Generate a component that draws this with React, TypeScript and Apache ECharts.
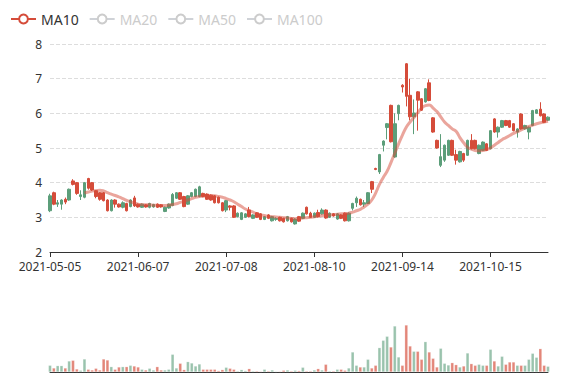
import React, { useEffect, useRef } from "react";
import * as echarts from "echarts";

const dates = [
  "2021-05-05","2021-05-06","2021-05-07","2021-05-10","2021-05-11","2021-05-12","2021-05-13","2021-05-14","2021-05-17","2021-05-18",
  "2021-05-19","2021-05-20","2021-05-21","2021-05-24","2021-05-25","2021-05-26","2021-05-27","2021-05-28","2021-05-31","2021-06-01",
  "2021-06-02","2021-06-03","2021-06-04","2021-06-07","2021-06-08","2021-06-09","2021-06-10","2021-06-11","2021-06-14","2021-06-15",
  "2021-06-16","2021-06-17","2021-06-18","2021-06-21","2021-06-22","2021-06-23","2021-06-24","2021-06-25","2021-06-28","2021-06-29",
  "2021-06-30","2021-07-01","2021-07-02","2021-07-05","2021-07-06","2021-07-07","2021-07-08","2021-07-09","2021-07-12","2021-07-13",
  "2021-07-14","2021-07-15","2021-07-16","2021-07-19","2021-07-20","2021-07-21","2021-07-22","2021-07-23","2021-07-26","2021-07-27",
  "2021-07-28","2021-07-29","2021-07-30","2021-08-02","2021-08-03","2021-08-04","2021-08-05","2021-08-06","2021-08-09","2021-08-10",
  "2021-08-11","2021-08-12","2021-08-13","2021-08-16","2021-08-17","2021-08-18","2021-08-19","2021-08-20","2021-08-23","2021-08-24",
  "2021-08-25","2021-08-26","2021-08-27","2021-08-30","2021-08-31","2021-09-01","2021-09-02","2021-09-03","2021-09-07","2021-09-08",
  "2021-09-09","2021-09-13","2021-09-14","2021-09-15","2021-09-16","2021-09-17","2021-09-20","2021-09-21","2021-09-22","2021-09-23",
  "2021-09-24","2021-09-27","2021-09-28","2021-09-29","2021-09-30","2021-10-01","2021-10-04","2021-10-05","2021-10-06","2021-10-07",
  "2021-10-08","2021-10-11","2021-10-12","2021-10-13","2021-10-14","2021-10-15","2021-10-18","2021-10-19","2021-10-20","2021-10-21",
  "2021-10-22","2021-10-25","2021-10-26","2021-10-27","2021-10-28","2021-10-29","2021-11-01","2021-11-02","2021-11-03","2021-11-04",
  "2021-11-05"
];

const opens = [
  3.62,3.38,3.42,3.50,3.44,3.81,3.95,3.69,3.65,4.00,
  3.84,3.79,3.60,3.52,3.48,3.19,3.50,3.38,3.30,3.42,
  3.19,3.50,3.33,3.30,3.38,3.30,3.40,3.37,3.29,3.30,
  3.29,3.38,3.66,3.71,3.52,3.31,3.62,3.71,3.81,3.88,
  3.60,3.52,3.50,3.42,3.42,3.19,3.48,3.29,3.00,3.12,
  3.13,3.10,3.02,3.07,3.00,2.94,3.02,2.97,3.02,2.97,
  2.90,2.87,3.02,2.87,2.95,2.89,3.12,3.10,3.00,3.12,
  3.02,3.21,2.98,3.12,3.04,3.10,2.97,2.90,3.12,3.40,
  3.55,3.36,3.42,3.71,3.81,4.38,4.81,5.20,5.70,5.18,
  5.70,6.23,6.76,6.49,5.90,6.01,6.38,6.09,6.71,6.37,
  5.46,5.00,4.75,5.08,5.22,4.79,4.65,4.90,4.65,5.22,
  4.98,4.98,5.08,5.17,4.93,5.50,5.46,5.60,5.79,5.65,
  5.60,5.50,5.55,5.55,5.65,5.60,6.08,6.10,5.93,5.74,
  5.89
];

const closes = [
  3.19,3.71,3.38,3.38,3.52,3.50,4.05,4.00,3.60,3.58,
  4.12,4.00,3.77,3.71,3.71,3.50,3.19,3.50,3.38,3.29,
  3.40,3.31,3.56,3.38,3.29,3.36,3.29,3.30,3.38,3.36,
  3.17,3.27,3.34,3.55,3.71,3.60,3.38,3.60,3.60,3.60,
  3.69,3.67,3.64,3.62,3.58,3.42,3.21,3.33,3.33,3.02,
  2.94,3.00,3.21,2.97,3.13,3.10,2.94,3.07,2.90,2.94,
  3.00,2.97,2.90,2.97,2.81,3.02,2.97,3.29,3.12,3.00,
  3.14,3.10,3.21,3.00,3.10,2.95,3.07,3.12,2.90,3.26,
  3.42,3.52,3.38,3.40,4.03,4.41,4.31,5.08,5.59,6.23,
  4.74,5.99,6.81,7.43,6.52,5.90,6.62,6.42,6.33,6.88,
  5.87,5.22,4.50,4.65,4.79,5.22,4.81,4.60,4.84,4.79,
  5.22,5.22,4.84,4.93,5.12,4.98,5.84,5.46,5.60,5.79,
  5.79,5.70,5.46,5.98,5.55,5.46,5.65,6.00,6.12,5.98,
  5.80
];

const lows = [
  3.15,3.35,3.30,3.22,3.38,3.48,3.92,3.65,3.50,3.55,
  3.80,3.76,3.55,3.48,3.46,3.17,3.17,3.28,3.28,3.26,
  3.17,3.29,3.30,3.28,3.27,3.28,3.26,3.28,3.27,3.28,
  3.15,3.25,3.32,3.53,3.50,3.29,3.36,3.58,3.58,3.58,
  3.58,3.50,3.48,3.40,3.40,3.17,3.15,3.20,2.98,3.00,
  2.92,2.98,3.00,2.95,2.98,2.92,2.92,2.95,2.88,2.90,
  2.88,2.85,2.88,2.85,2.79,2.87,2.95,3.08,2.98,2.98,
  3.00,3.08,2.96,2.98,3.02,2.93,2.95,2.88,2.88,3.20,
  3.30,3.34,3.30,3.38,3.70,4.36,4.25,4.90,5.25,5.16,
  4.72,5.80,6.60,6.20,5.80,5.40,5.50,6.07,6.31,6.35,
  5.44,4.98,4.45,4.60,4.77,4.77,4.52,4.58,4.60,4.77,
  4.96,4.96,4.82,4.91,4.91,4.96,5.44,5.30,5.58,5.63,
  5.58,5.48,5.30,5.53,5.53,5.25,5.63,5.98,5.91,5.72,
  5.78
];

const highs = [
  3.68,3.74,3.50,3.52,3.57,3.83,4.10,4.02,3.78,4.02,
  4.14,4.02,3.79,3.73,3.73,3.52,3.52,3.52,3.40,3.46,
  3.42,3.52,3.62,3.40,3.40,3.38,3.42,3.39,3.40,3.38,
  3.31,3.40,3.70,3.73,3.73,3.62,3.64,3.73,3.83,3.91,
  3.71,3.69,3.66,3.64,3.60,3.44,3.50,3.35,3.35,3.14,
  3.15,3.12,3.30,3.09,3.15,3.12,3.04,3.09,3.04,3.00,
  3.02,2.99,3.04,2.99,2.97,3.04,3.14,3.31,3.16,3.14,
  3.22,3.26,3.23,3.14,3.12,3.12,3.09,3.14,3.14,3.42,
  3.60,3.54,3.50,3.73,4.05,4.43,4.83,5.22,5.72,6.25,
  6.00,6.25,6.84,7.45,7.00,6.40,6.64,6.44,6.73,6.98,
  5.89,5.24,5.40,5.10,5.24,5.24,4.95,4.92,4.86,5.24,
  5.40,5.24,5.10,5.19,5.14,5.52,5.86,5.62,5.81,5.81,
  5.81,5.72,5.57,6.00,5.67,5.62,6.10,6.12,6.32,6.00,
  5.91
];

const ma10 = [
  "-","-","-","-","-","-","-","-","-",3.70,
  3.73,3.76,3.77,3.78,3.76,3.71,3.67,3.63,3.59,3.54,
  3.49,3.45,3.41,3.38,3.37,3.36,3.36,3.35,3.35,3.34,
  3.34,3.35,3.37,3.39,3.43,3.46,3.50,3.54,3.58,3.60,
  3.61,3.62,3.63,3.62,3.60,3.58,3.54,3.50,3.45,3.38,
  3.31,3.24,3.19,3.15,3.10,3.07,3.05,3.03,3.02,3.01,
  3.00,2.99,2.98,2.97,2.96,2.97,2.98,2.99,3.00,3.02,
  3.03,3.05,3.06,3.07,3.08,3.09,3.10,3.11,3.12,3.15,
  3.19,3.23,3.30,3.38,3.50,3.70,3.95,4.15,4.33,4.58,
  4.85,5.12,5.37,5.60,5.75,5.88,6.02,6.15,6.22,6.24,
  6.15,6.05,5.90,5.75,5.65,5.55,5.48,5.30,5.15,5.02,
  4.97,4.93,4.92,4.93,4.96,5.00,5.08,5.16,5.24,5.30,
  5.36,5.42,5.47,5.52,5.58,5.62,5.66,5.70,5.73,5.75,
  5.77
];

const volumes = [
  20,12,19,19,12,33,35,9,5,39,
  8,6,11,6,39,36,16,8,15,16,
  16,20,18,15,8,6,11,6,16,6,
  6,8,53,12,26,7,31,27,18,24,
  8,8,8,8,4,7,14,11,8,3,
  7,4,10,3,3,2,8,3,6,2,
  2,5,6,3,5,4,14,3,3,6,
  10,6,23,3,3,8,8,5,12,60,
  20,15,15,38,12,20,73,95,107,75,
  138,45,20,141,78,62,62,38,91,60,
  41,15,71,26,21,28,22,15,18,57,
  25,20,23,20,20,68,33,18,47,23,
  30,30,20,20,20,38,56,44,70,20,
  17
];

const legendNames = ["MA10", "MA20", "MA50", "MA100"];

const UP = "#d54c3a";
const DOWN = "#5c9e7a";
const FONT = "'Noto Sans', sans-serif";

export default function App() {
  const ref = useRef<HTMLDivElement>(null);
  useEffect(() => {
    if (!ref.current) return;
    const chart = echarts.init(ref.current, undefined, { renderer: "svg" });
    const candles = dates.map((_, i) => [opens[i], closes[i], lows[i], highs[i]]);
    const vols = volumes.map((v, i) => ({
      value: v,
      itemStyle: {
        color: closes[i] >= opens[i] ? "rgba(213,76,58,0.68)" : "rgba(92,158,122,0.62)",
        borderColor: "rgba(255,255,255,0.45)",
        borderWidth: 0.5,
      },
    }));
    chart.setOption({
      animation: false,
      textStyle: { fontFamily: FONT },
      legend: {
        left: 5,
        top: 7,
        itemGap: 10,
        itemWidth: 25,
        itemHeight: 11,
        data: legendNames.map((n) => ({ name: n, lineStyle: { opacity: 1 } })),
        selected: { MA20: false, MA50: false, MA100: false },
        inactiveColor: "#ccc",
        textStyle: { fontSize: 14, color: "#333", fontFamily: FONT },
      },
      grid: [
        { left: 50, right: 29, top: 44, height: 208, outerBoundsMode: "none" },
        { left: 50, right: 29, bottom: 8, height: 60, outerBoundsMode: "none" },
      ],
      xAxis: [
        {
          type: "category",
          data: dates,
          boundaryGap: false,
          axisLine: { lineStyle: { color: "#333" } },
          axisTick: { show: true, interval: 22, lineStyle: { color: "#333" } },
          axisLabel: { interval: 22, color: "#333", fontSize: 12, fontFamily: FONT },
          splitLine: { show: false },
        },
        {
          type: "category",
          gridIndex: 1,
          data: dates,
          boundaryGap: false,
          axisLine: { lineStyle: { color: "#333" } },
          axisTick: { show: false },
          axisLabel: { show: false },
          splitLine: { show: false },
        },
      ],
      yAxis: [
        {
          type: "value",
          min: 2,
          max: 8,
          interval: 1,
          axisLine: { show: false },
          axisTick: { show: false },
          axisLabel: { color: "#333", fontSize: 12, fontFamily: FONT },
          splitLine: { lineStyle: { type: "dashed", color: "#ddd" } },
        },
        {
          type: "value",
          gridIndex: 1,
          min: 0,
          max: 180,
          show: false,
        },
      ],
      series: [
        {
          name: "K",
          type: "candlestick",
          data: candles,
          barWidth: 3,
          itemStyle: { color: UP, color0: DOWN, borderColor: UP, borderColor0: DOWN },
        },
        {
          name: "MA10",
          type: "line",
          data: ma10,
          smooth: true,
          showSymbol: false,
          color: UP,
          lineStyle: { width: 3, opacity: 0.5, color: UP },
        },
        { name: "MA20", type: "line", data: [], showSymbol: false, color: "#5470c6" },
        { name: "MA50", type: "line", data: [], showSymbol: false, color: "#91cc75" },
        { name: "MA100", type: "line", data: [], showSymbol: false, color: "#fac858" },
        {
          name: "Volume",
          type: "bar",
          xAxisIndex: 1,
          yAxisIndex: 1,
          barWidth: 3.2,
          data: vols,
        },
      ],
    });
    return () => chart.dispose();
  }, []);
  return (
    <div
      ref={ref}
      style={{ position: "absolute", left: 0, top: 0, width: 577, height: 380 }}
    />
  );
}
